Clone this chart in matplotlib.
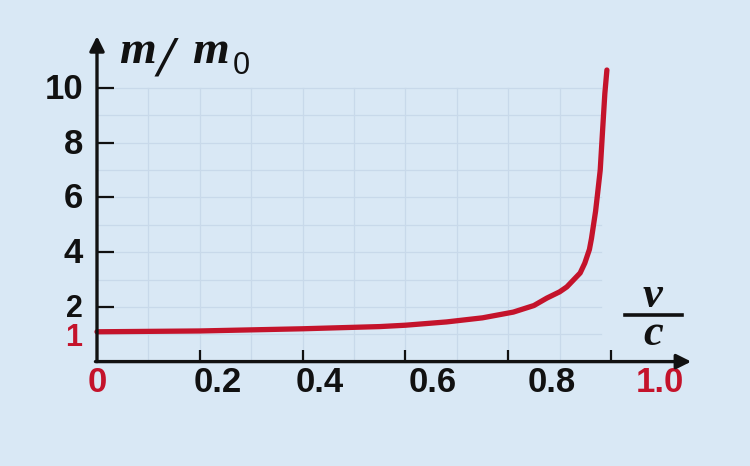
import matplotlib.pyplot as plt

# values (v/c, m/m0)
speed = [0.0, 0.2, 0.4, 0.55, 0.6, 0.68, 0.75, 0.81, 0.85, 0.875, 0.9,
         0.914, 0.94, 0.949, 0.958, 0.962, 0.966, 0.97, 0.974, 0.979,
         0.984, 0.988, 0.992]
mass_ratio = [1.09, 1.12, 1.2, 1.28, 1.33, 1.45, 1.6, 1.81, 2.05, 2.32, 2.55,
              2.73, 3.24, 3.6, 4.1, 4.5, 5.0, 5.5, 6.16, 7.0,
              8.57, 9.8, 10.66]

x_ticks = [0.2, 0.4, 0.6, 0.8, 1.0]
x_labels = ['0.2', '0.4', '0.6', '0.8', '1.0']
y_ticks = [2, 4, 6, 8, 10]
y_labels = ['2', '4', '6', '8', '10']

bg = '#d9e8f5'
red = '#c4132b'
grid_c = '#c8d9ea'

fig = plt.figure(figsize=(7.5, 4.66), dpi=100)
fig.patch.set_facecolor(bg)
ax = fig.add_axes([0, 0, 1, 1])
ax.set_facecolor(bg)
ax.set_xlim(-0.1887, 1.2704)
ax.set_ylim(-3.817, 13.22)
ax.axis('off')

# faint grid
for i in range(1, 10):
    ax.plot([i / 10, i / 10], [0, 10], color=grid_c, lw=0.9, zorder=1)
for j in range(1, 11):
    ax.plot([0, 0.98], [j, j], color=grid_c, lw=0.9, zorder=1)

# axes with arrows
ax.annotate('', xy=(0, 11.9), xytext=(0, 0),
            arrowprops=dict(arrowstyle='-|>', lw=2.4, color='#111111',
                            mutation_scale=22, shrinkA=0, shrinkB=0), zorder=4)
ax.annotate('', xy=(1.156, 0), xytext=(-0.003, 0),
            arrowprops=dict(arrowstyle='-|>', lw=2.4, color='#111111',
                            mutation_scale=22, shrinkA=0, shrinkB=0), zorder=4)

# tick marks
ax.vlines(x_ticks, 0, 0.42, color='#111111', lw=1.6, zorder=4)
ax.hlines(y_ticks, 0, 0.034, color='#111111', lw=1.6, zorder=4)

num = dict(family='Liberation Sans', fontweight='bold', fontsize=25)
x_shift = [0.034, 0.034, 0.054, 0.085, 0.095]
for t, lab, dx in zip(x_ticks, x_labels, x_shift):
    c = red if lab == '1.0' else '#111111'
    ax.text(t + dx, -0.75, lab, ha='center', va='center', color=c, **num)
for t, lab in zip(y_ticks, y_labels):
    size = 22 if lab == '2' else 25
    ax.text(-0.027, t - 0.016 * size, lab, ha='right', va='baseline',
            color='#111111', family='Liberation Sans', fontweight='bold',
            fontsize=size)
ax.text(0.0, -0.78, '0', ha='center', va='center', color=red, **num)
ax.text(-0.046, 0.88, '1', ha='center', va='center', color=red,
        family='Liberation Sans', fontweight='bold', fontsize=22)

# curve
ax.plot(speed, mass_ratio, color=red, lw=3.8, solid_capstyle='round',
        solid_joinstyle='round', zorder=3)

# axis titles
serif = dict(family='Liberation Serif', fontstyle='italic', fontweight='bold',
             color='#111111', va='baseline')
ax.text(0.043, 10.9, 'm', fontsize=34, ha='left', **serif)
ax.text(0.118, 10.45, '/', fontsize=42, ha='left', **serif)
ax.text(0.185, 10.9, 'm', fontsize=34, ha='left', **serif)
ax.text(0.264, 10.5, '0', family='Liberation Sans', fontsize=22,
        color='#111111', ha='left', va='baseline')
ax.text(1.08, 2.0, 'v', fontsize=32, ha='center', **serif)
ax.plot([1.028, 1.138], [1.72, 1.72], color='#111111', lw=2.6)
ax.text(1.083, 0.62, 'c', fontsize=32, ha='center', **serif)

fig.savefig('out.png', dpi=100, facecolor=bg)
